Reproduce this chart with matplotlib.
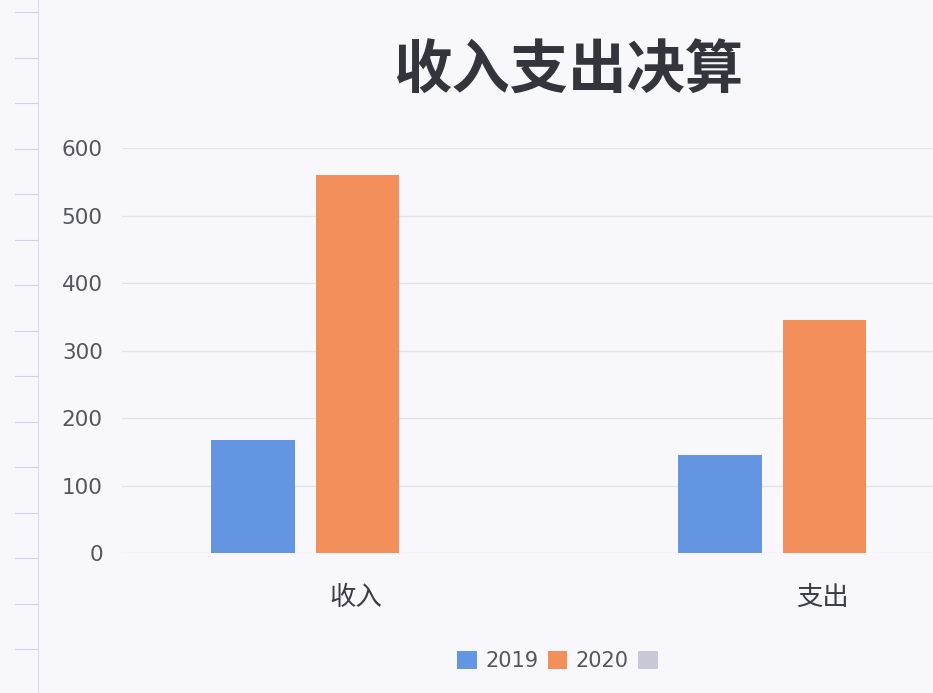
import matplotlib.pyplot as plt
import numpy as np

plt.rcParams['font.family'] = ['Noto Sans CJK SC', 'DejaVu Sans']

categories = ['收入', '支出']
series_names = ['2019', '2020', '']
values_2019 = [168, 145]
values_2020 = [561, 346]
values_3 = [0, 0]
colors = ['#6495e2', '#f28f5a', '#c9c8d6']

bg = '#f8f8fc'
fig = plt.figure(figsize=(9.33, 6.93), dpi=100, facecolor=bg)
# plot area runs past the right edge like the cropped scan
ax = fig.add_axes([0.131, 0.202, 1.001, 0.584], facecolor=bg)

x = np.arange(len(categories))
w = 0.178
offs = [-0.22, 0.003, 0.226]
for vals, off, c, name in zip([values_2019, values_2020, values_3], offs, colors, series_names):
    ax.bar(x + off, vals, width=w, color=c, label=name if name else ' ', zorder=3)

ax.set_xlim(-0.5, 1.5)
ax.set_ylim(0, 600)
ax.set_yticks(range(0, 601, 100))
ax.grid(axis='y', color='#e2e2ec', linewidth=1, zorder=0)
for s in ax.spines.values():
    s.set_visible(False)
ax.tick_params(axis='y', length=0, pad=14, labelsize=15.5, labelcolor='#55555e')
for t in ax.get_yticklabels():
    t.set_family('DejaVu Sans')
ax.set_xticks(x + 0.0)
ax.set_xticklabels(categories)
ax.tick_params(axis='x', length=0, pad=22, labelsize=19, labelcolor='#3c3c44')

fig.text(0.609, 0.897, '收入支出决算', ha='center', va='center', fontsize=42,
         fontweight='semibold', color='#34343c')

handles, labels = ax.get_legend_handles_labels()
leg = fig.legend(handles, ['2019', '2020', ''], loc='center', bbox_to_anchor=(0.602, 0.046),
                 ncol=3, frameon=False, handlelength=0.95, handleheight=0.95,
                 handletextpad=0.4, columnspacing=0.45, labelcolor='#55555e',
                 prop={'family': 'DejaVu Sans', 'size': 15})

# faint ruler marks from the scanned page edge
ax2 = fig.add_axes([0, 0, 1, 1], facecolor='none')
ax2.set_xlim(0, 933)
ax2.set_ylim(693, 0)
ax2.axis('off')
ax2.plot([38, 38], [0, 693], color='#dcd8f0', lw=0.8)
for yy in np.arange(12, 693, 45.5):
    ax2.plot([15, 38], [yy, yy], color='#d4d0ec', lw=0.8)

fig.savefig('out.png', dpi=100, facecolor=bg)
